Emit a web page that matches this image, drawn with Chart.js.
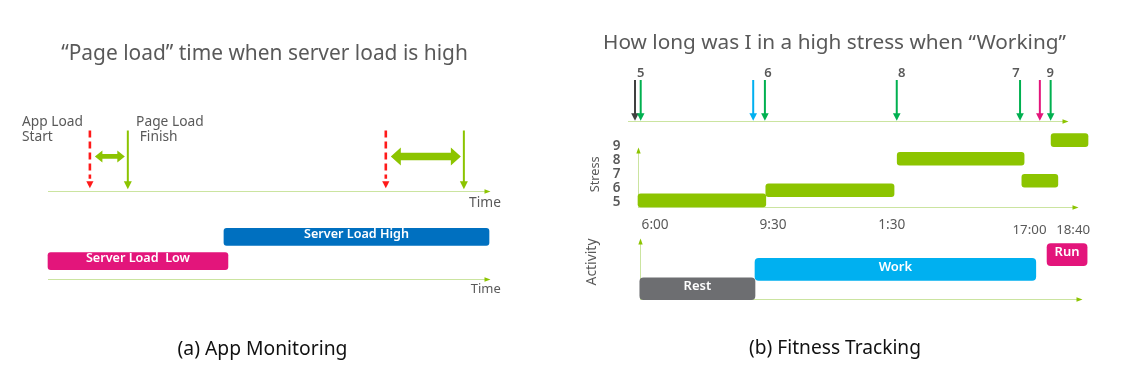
<!DOCTYPE html>
<html><head><meta charset="utf-8">
<title>App Monitoring / Fitness Tracking</title>
<script src="https://cdn.jsdelivr.net/npm/chart.js@4.4.1/dist/chart.umd.min.js"></script>
<style>
html,body{margin:0;padding:0;background:#fff;}
#page{position:relative;width:1142px;height:390px;overflow:hidden;background:#fff;}
#page canvas{position:absolute;left:0;top:0;}
.t{position:absolute;white-space:pre;line-height:1;transform:translate(-50%,-50%);}
.title{color:#595959;}
.cap{color:#111;}
</style></head><body>
<div id="page">
 <canvas id="appEvents" width="1142" height="390"></canvas>
 <canvas id="appLoad" width="1142" height="390"></canvas>
 <canvas id="fitEvents" width="1142" height="390"></canvas>
 <canvas id="fitStress" width="1142" height="390"></canvas>
 <canvas id="fitActivity" width="1142" height="390"></canvas>
 <div class="t title" id="titleA" style="left:264.5px;top:51.5px">“Page load” time when server load is high</div>
 <div class="t title" id="titleB" style="left:834.5px;top:40.5px">How long was I in a high stress when “Working”</div>
 <div class="t cap" id="capA" style="left:262.5px;top:347px">(a) App Monitoring</div>
 <div class="t cap" id="capB" style="left:835px;top:347px">(b) Fitness Tracking</div>
</div>
<script>
// ================= DATA =================
// (a) App Monitoring — time axis in arbitrary units 0..100
const appLoadStart   = [9.5, 76.6];
const pageLoadFinish = [18.1, 94.3];
const startLabel  = ['App Load', 'Start'];
const finishLabel = ['Page Load', ' Finish'];
const serverLoadNames = ['Server Load High', 'Server Load  Low'];
const serverLoadStart = [39.9, 0];
const serverLoadEnd   = [100, 40.8];
const serverLoadLevel = [2, 1];

// (b) Fitness Tracking — time axis in arbitrary units 0..100
const timeTickLabels = ['6:00', '9:30', '1:30', '17:00', '18:40'];
const timeTickValues = [3.8, 30, 56.4, 87, 96.7];
const stressTicks = [5, 6, 7, 8, 9];
const stressStart = [0, 28.4, 57.6, 85.3, 91.8];
const stressEnd   = [28.4, 56.9, 85.8, 93.3, 100];
const stressValue = [5.13, 5.86, 8.11, 6.54, 9.44];
const activityNames = ['Rest', 'Work', 'Run'];
const activityStart = [0.4, 26.0, 90.9];
const activityEnd   = [26.0, 88.4, 99.8];
const activityLevel = [0.52, 1.51, 2.26];
const eventTimes  = [-0.67, 0.6, 25.6, 28.2, 57.5, 84.9, 89.3, 91.7];
const eventKinds  = ['Rest', 'Stress', 'Work', 'Stress', 'Stress', 'Stress', 'Run', 'Stress'];
const eventLabels = ['', '5', '', '6', '8', '7', '', '9'];

// ================= STYLE =================
const W = 1142, H = 390;
const FAM = '"Noto Sans","DejaVu Sans",sans-serif';
const C = {
  lime:'#8cc400', axis:'#cbe4a0', red:'#ff1a1a', blue:'#0070c0', pink:'#e3157b',
  text:'#595959', green:'#00b050', cyan:'#00b0f0', gray:'#6d6e71', dark:'#404040'
};
const kindColor = {Rest:C.dark, Stress:C.green, Work:C.cyan, Run:C.pink};
const activityColor = [C.gray, C.cyan, C.pink];
const spanStyle = [{shaft:4.6, half:6, len:7.5}, {shaft:7.5, half:9, len:10}];
const labelShift = [0, 0, 0, 3, 5, -4, 0, -0.5];
const timeTickDrop = [0, 0, 0, 5, 5];

function fitHtml(id, target, weight){
  const el = document.getElementById(id);
  const c = document.createElement('canvas').getContext('2d');
  c.font = `${weight} 20px ${FAM}`;
  const s = 20 * target / c.measureText(el.textContent).width;
  el.style.font = `${weight} ${s.toFixed(2)}px ${FAM}`;
}
fitHtml('titleA', 407, 'normal');
fitHtml('titleB', 463, 'normal');
fitHtml('capA', 170, 'normal');
fitHtml('capB', 172, 'normal');

function fitFont(ctx, text, width, weight){
  ctx.font = `${weight} 20px ${FAM}`;
  const s = 20 * width / ctx.measureText(text).width;
  ctx.font = `${weight} ${s.toFixed(2)}px ${FAM}`;
  return s;
}
function crisp(v){ return Math.round(v) + 0.5; }
function axisLine(ctx, x0, y0, x1, y1){
  ctx.save();
  ctx.strokeStyle = C.axis; ctx.lineWidth = 1;
  ctx.beginPath(); ctx.moveTo(x0, y0); ctx.lineTo(x1, y1); ctx.stroke();
  const a = Math.atan2(y1 - y0, x1 - x0), L = 4.5, h = 2.2;
  ctx.fillStyle = C.lime; ctx.beginPath();
  ctx.moveTo(x1 + Math.cos(a)*1.5, y1 + Math.sin(a)*1.5);
  ctx.lineTo(x1 - L*Math.cos(a) + h*Math.sin(a), y1 - L*Math.sin(a) - h*Math.cos(a));
  ctx.lineTo(x1 - L*Math.cos(a) - h*Math.sin(a), y1 - L*Math.sin(a) + h*Math.cos(a));
  ctx.closePath(); ctx.fill();
  ctx.restore();
}
function downArrow(ctx, x, yTop, yTip, color, lw, len, half){
  ctx.strokeStyle = color; ctx.lineWidth = lw;
  ctx.beginPath(); ctx.moveTo(x, yTop); ctx.lineTo(x, yTip - len + 1); ctx.stroke();
  ctx.fillStyle = color; ctx.beginPath();
  ctx.moveTo(x - half, yTip - len); ctx.lineTo(x + half, yTip - len); ctx.lineTo(x, yTip);
  ctx.closePath(); ctx.fill();
}
function dblArrow(ctx, x0, x1, y, st, color){
  const s = st.shaft/2, h = st.half, l = st.len;
  ctx.fillStyle = color; ctx.beginPath();
  ctx.moveTo(x0, y); ctx.lineTo(x0 + l, y - h); ctx.lineTo(x0 + l, y - s);
  ctx.lineTo(x1 - l, y - s); ctx.lineTo(x1 - l, y - h); ctx.lineTo(x1, y);
  ctx.lineTo(x1 - l, y + h); ctx.lineTo(x1 - l, y + s); ctx.lineTo(x0 + l, y + s);
  ctx.lineTo(x0 + l, y + h); ctx.closePath(); ctx.fill();
}
function frame(area, xr, yr, extra){
  const [x0, y0, x1, y1] = area;
  return Object.assign({
    responsive:false, animation:false, events:[],
    layout:{padding:{left:x0, top:y0, right:W - x1, bottom:H - y1}},
    plugins:{legend:{display:false}, tooltip:{enabled:false}},
    scales:{
      x:{type:'linear', display:false, offset:false, grace:0, min:xr[0], max:xr[1]},
      y:{type:'linear', display:false, offset:false, grace:0, min:yr[0], max:yr[1]}
    }
  }, extra || {});
}
function barLabels(ctx, meta, names, size){
  ctx.save();
  ctx.fillStyle = '#fff'; ctx.textAlign = 'center'; ctx.textBaseline = 'middle';
  meta.data.forEach((el, i) => {
    ctx.font = `600 ${size}px ${FAM}`;
    ctx.fillText(names[i], (el.x + el.base)/2, el.y - 2.5);
  });
  ctx.restore();
}

// ================= (a) events chart =================
new Chart(document.getElementById('appEvents'), {
  type:'scatter',
  data:{datasets:[
    {label:'App Load Start', data:appLoadStart.map(t => ({x:t, y:1})), pointRadius:0, borderColor:C.red},
    {label:'Page Load Finish', data:pageLoadFinish.map(t => ({x:t, y:1})), pointRadius:0, borderColor:C.lime}
  ]},
  options: frame([48, 130.5, 489, 190.7], [0, 100], [0, 1]),
  plugins:[{id:'appEventsDraw', afterDatasetsDraw(chart){
    const {ctx, chartArea:a, scales:{x, y}} = chart;
    const top = y.getPixelForValue(1), base = y.getPixelForValue(0);
    ctx.save();
    axisLine(ctx, a.left, crisp(base), a.right, crisp(base));
    appLoadStart.forEach(t => {
      const px = x.getPixelForValue(t);
      ctx.strokeStyle = C.red; ctx.lineWidth = 2.6; ctx.setLineDash([7, 4]);
      ctx.beginPath(); ctx.moveTo(px, top); ctx.lineTo(px, base - 12); ctx.stroke();
      ctx.setLineDash([]);
      ctx.fillStyle = C.red; ctx.beginPath();
      ctx.moveTo(px - 3.6, base - 9.5); ctx.lineTo(px + 3.6, base - 9.5); ctx.lineTo(px, base - 2.5);
      ctx.closePath(); ctx.fill();
    });
    pageLoadFinish.forEach(t => downArrow(ctx, x.getPixelForValue(t), top, base - 1.5, C.lime, 2, 8, 4));
    appLoadStart.forEach((t, i) => {
      dblArrow(ctx, x.getPixelForValue(t) + 5, x.getPixelForValue(pageLoadFinish[i]) - 3,
               y.getPixelForValue(0.57), spanStyle[i], C.lime);
    });
    ctx.fillStyle = C.text; ctx.textBaseline = 'middle'; ctx.textAlign = 'left';
    fitFont(ctx, startLabel[0], 61, 'normal');
    const sx = x.getPixelForValue(appLoadStart[0]) - 7 - ctx.measureText(startLabel[0]).width;
    ctx.fillText(startLabel[0], sx, top - 8.8);
    ctx.fillText(startLabel[1], sx, top + 6.8);
    const fx = x.getPixelForValue(pageLoadFinish[0]) + 8.3;
    ctx.fillText(finishLabel[0], fx, top - 8.8);
    ctx.fillText(finishLabel[1], fx, top + 6.8);
    ctx.textAlign = 'center';
    ctx.fillText('Time', a.right - 4, base + 12.6);
    ctx.restore();
  }}]
});

// ================= (a) server load gantt =================
new Chart(document.getElementById('appLoad'), {
  type:'bar',
  data:{
    labels: serverLoadNames,
    datasets:[{
      label:'Server Load',
      data: serverLoadNames.map((n, i) => ({x:[serverLoadStart[i], serverLoadEnd[i]], y:serverLoadLevel[i]})),
      backgroundColor:[C.blue, C.pink], barThickness:17, borderRadius:3, borderSkipped:false, clip:false
    }]
  },
  options: frame([48, 224.85, 489, 279.3], [0, 100], [0.25, 2.5], {indexAxis:'y'}),
  plugins:[{id:'appLoadDraw', afterDatasetsDraw(chart){
    const {ctx, chartArea:a} = chart;
    const base = crisp(a.bottom - 0.5);
    axisLine(ctx, a.left, base, a.right, base);
    barLabels(ctx, chart.getDatasetMeta(0), serverLoadNames, 12.6);
    ctx.save();
    ctx.fillStyle = C.text; ctx.textAlign = 'center'; ctx.textBaseline = 'middle';
    fitFont(ctx, 'Time', 30, 'normal');
    ctx.fillText('Time', a.right - 3.3, a.bottom + 10);
    ctx.restore();
  }}]
});

// ================= (b) event arrows =================
new Chart(document.getElementById('fitEvents'), {
  type:'scatter',
  data:{datasets:['Rest', 'Work', 'Run', 'Stress'].map(k => ({
    label:k,
    data: eventTimes.map((t, i) => eventKinds[i] === k ? {x:t, y:1} : null).filter(Boolean),
    pointRadius:0, borderColor:kindColor[k]
  }))},
  options: frame([638, 80, 1088, 120.7], [0, 100], [0, 1]),
  plugins:[{id:'fitEventsDraw', afterDatasetsDraw(chart){
    const {ctx, chartArea:a, scales:{x, y}} = chart;
    const top = y.getPixelForValue(1), base = y.getPixelForValue(0);
    ctx.save();
    axisLine(ctx, a.left - 10, crisp(base + 0.5), a.right - 21, crisp(base + 0.5));
    eventTimes.forEach((t, i) => {
      const px = x.getPixelForValue(t);
      downArrow(ctx, px, top, base, kindColor[eventKinds[i]], 2, 7.5, 3.8);
      if (eventLabels[i]) {
        ctx.fillStyle = C.text; ctx.textAlign = 'center'; ctx.textBaseline = 'middle';
        ctx.font = `600 13px ${FAM}`;
        ctx.fillText(eventLabels[i], px + labelShift[i], top - 7);
      }
    });
    ctx.restore();
  }}]
});

// ================= (b) stress gantt =================
new Chart(document.getElementById('fitStress'), {
  type:'bar',
  data:{datasets:[{
    label:'Stress',
    data: stressStart.map((s, i) => ({x:[s, stressEnd[i]], y:stressValue[i]})),
    backgroundColor:C.lime, barThickness:13, borderRadius:3, borderSkipped:false, clip:false
  }]},
  options: frame([638, 149, 1088, 206.7], [0, 100], [4.683, 8.81], {indexAxis:'y'}),
  plugins:[{id:'fitStressDraw', beforeDatasetsDraw(chart){
    const {ctx, chartArea:a, scales:{x, y}} = chart;
    axisLine(ctx, a.left, crisp(a.bottom), a.right - 11, crisp(a.bottom));
    axisLine(ctx, crisp(a.left), a.bottom, crisp(a.left), a.top);
    ctx.save();
    ctx.fillStyle = C.text; ctx.textAlign = 'center'; ctx.textBaseline = 'middle';
    ctx.font = `600 13.5px ${FAM}`;
    stressTicks.forEach(v => ctx.fillText(String(v), a.left - 21.3, y.getPixelForValue(v)));
    timeTickLabels.forEach((lab, i) => {
      const w = lab.length > 4 ? 34 : 27;
      fitFont(ctx, lab, w, 'normal');
      ctx.fillText(lab, x.getPixelForValue(timeTickValues[i]), a.bottom + 18.3 + timeTickDrop[i]);
    });
    ctx.translate(a.left - 43, y.getPixelForValue(7));
    ctx.rotate(-Math.PI/2);
    fitFont(ctx, 'Stress', 36, 'normal');
    ctx.fillText('Stress', 0, 0);
    ctx.restore();
  }}]
});

// ================= (b) activity gantt =================
new Chart(document.getElementById('fitActivity'), {
  type:'bar',
  data:{
    labels: activityNames,
    datasets:[{
      label:'Activity',
      data: activityNames.map((n, i) => ({x:[activityStart[i], activityEnd[i]], y:activityLevel[i]})),
      backgroundColor: activityColor, barThickness:22, borderRadius:4, borderSkipped:false, clip:false
    }]
  },
  options: frame([638, 240, 1088, 299], [0, 100], [0, 3], {indexAxis:'y'}),
  plugins:[{id:'fitActivityDraw', beforeDatasetsDraw(chart){
    const {ctx, chartArea:a} = chart;
    axisLine(ctx, a.left + 2, crisp(a.bottom - 0.5), a.right - 7, crisp(a.bottom - 0.5));
    axisLine(ctx, crisp(a.left + 2), a.bottom, crisp(a.left + 2), a.top);
    ctx.save();
    ctx.fillStyle = C.text; ctx.textAlign = 'center'; ctx.textBaseline = 'middle';
    ctx.translate(a.left - 46, a.top + 22);
    ctx.rotate(-Math.PI/2);
    fitFont(ctx, 'Activity', 47, 'normal');
    ctx.fillText('Activity', 0, 0);
    ctx.restore();
  }, afterDatasetsDraw(chart){
    barLabels(chart.ctx, chart.getDatasetMeta(0), activityNames, 13);
  }}]
});
</script>
</body></html>
